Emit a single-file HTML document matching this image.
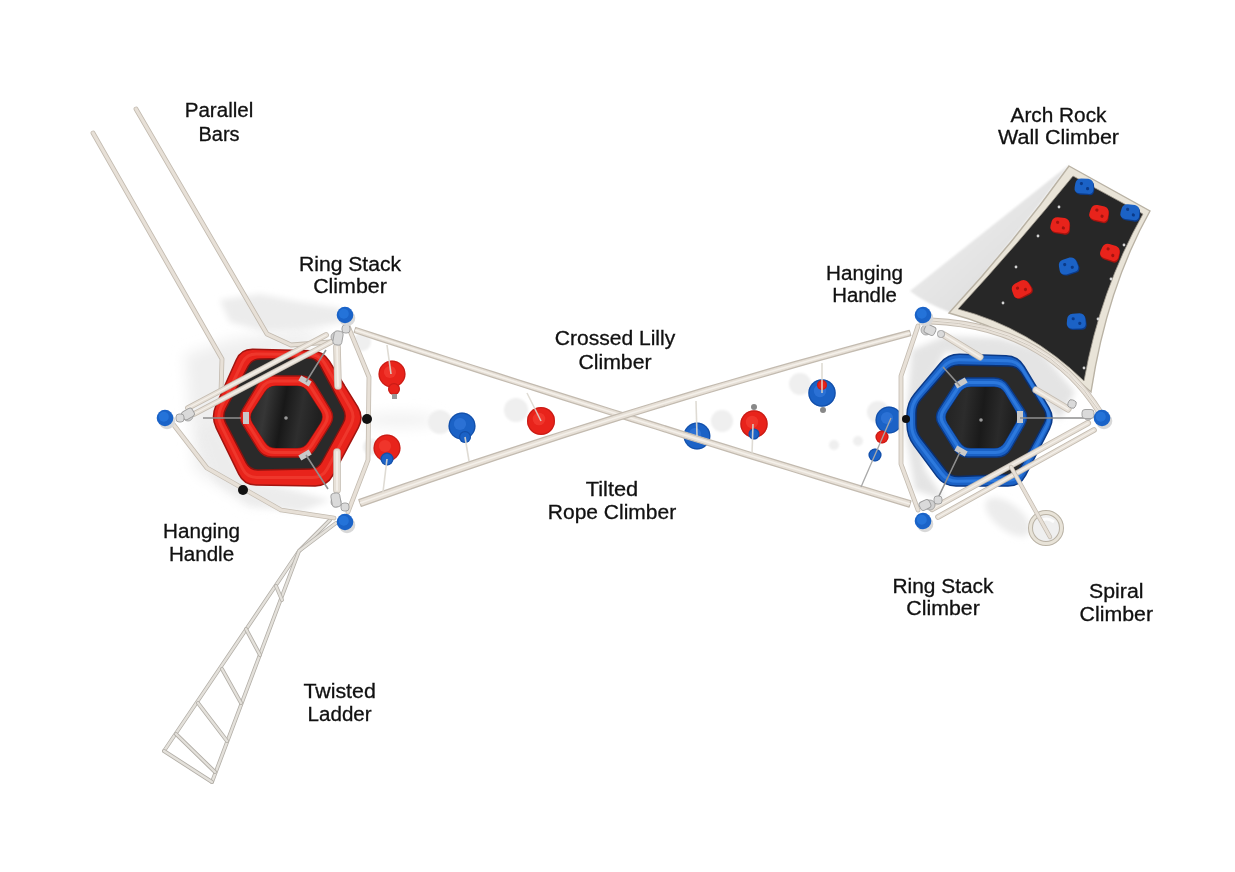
<!DOCTYPE html><html><head><meta charset="utf-8"><style>html,body{margin:0;padding:0;background:#fff;width:1235px;height:872px;overflow:hidden}svg{display:block;will-change:transform}</style></head><body><svg width="1235" height="872" viewBox="0 0 1235 872">
<defs><filter id="bl" x="-50%" y="-50%" width="200%" height="200%"><feGaussianBlur stdDeviation="7"/></filter><filter id="bl2" x="-50%" y="-50%" width="200%" height="200%"><feGaussianBlur stdDeviation="3"/></filter><filter id="blc" filterUnits="userSpaceOnUse" x="0" y="0" width="1235" height="872"><feGaussianBlur stdDeviation="3"/></filter><filter id="bl1" x="-50%" y="-50%" width="200%" height="200%"><feGaussianBlur stdDeviation="1.2"/></filter><linearGradient id="wsh" x1="0.75" y1="0.75" x2="0.3" y2="0.3"><stop offset="0" stop-color="#dddddd"/><stop offset="1" stop-color="#ebebeb"/></linearGradient></defs>
<rect width="1235" height="872" fill="#ffffff"/>
<g filter="url(#bl)" fill="#efefef">
<polygon points="185,355 230,340 300,330 330,335 300,350 250,360 225,420 232,470 300,500 250,505 195,470"/>
<ellipse cx="400" cy="420" rx="38" ry="6"/>
</g>
<g filter="url(#bl2)" fill="#ececec">
<polygon points="220,300 260,294 300,302 340,308 345,322 300,330 265,332 230,322"/>
<polygon points="200,432 214,424 232,455 252,482 300,492 330,500 300,512 250,505 215,480"/>
<ellipse cx="1008" cy="517" rx="27" ry="13" transform="rotate(38 1008 517)"/>
</g>
<g filter="url(#bl1)" fill="#efefef">
<circle cx="440" cy="422" r="12"/><circle cx="516" cy="410" r="12"/><circle cx="362" cy="342" r="9"/><circle cx="371" cy="447" r="8"/>
<circle cx="722" cy="421" r="11"/><circle cx="800" cy="384" r="11"/><circle cx="878" cy="412" r="11"/>
<circle cx="858" cy="441" r="5"/><circle cx="834" cy="445" r="5"/>
</g>
<path d="M1070,164 L910,291 Q925,303 952,313 Q1012,242 1070,164 Z" fill="url(#wsh)" filter="url(#bl1)"/>
<path d="M93,133 L222,359 L221,392" fill="none" stroke="#c3bbb0" stroke-width="4.8" stroke-linecap="round" stroke-linejoin="round"/>
<path d="M93,133 L222,359 L221,392" fill="none" stroke="#e7e0d7" stroke-width="3.2" stroke-linecap="round" stroke-linejoin="round"/>
<path d="M136,109 L267,334 L291,345 L330,342" fill="none" stroke="#c3bbb0" stroke-width="4.8" stroke-linecap="round" stroke-linejoin="round"/>
<path d="M136,109 L267,334 L291,345 L330,342" fill="none" stroke="#e7e0d7" stroke-width="3.2" stroke-linecap="round" stroke-linejoin="round"/>
<path d="M330,520 L299,551 L164,751" fill="none" stroke="#b3afa8" stroke-width="3.9" stroke-linecap="round" stroke-linejoin="round"/>
<path d="M330,520 L299,551 L164,751" fill="none" stroke="#e4e1db" stroke-width="2.3" stroke-linecap="round" stroke-linejoin="round"/>
<path d="M336,523 L299,551 L212,782" fill="none" stroke="#b3afa8" stroke-width="3.9" stroke-linecap="round" stroke-linejoin="round"/>
<path d="M336,523 L299,551 L212,782" fill="none" stroke="#e4e1db" stroke-width="2.3" stroke-linecap="round" stroke-linejoin="round"/>
<path d="M164,751 L212,782" fill="none" stroke="#b3afa8" stroke-width="3.9" stroke-linecap="round" stroke-linejoin="round"/>
<path d="M164,751 L212,782" fill="none" stroke="#e4e1db" stroke-width="2.3" stroke-linecap="round" stroke-linejoin="round"/>
<path d="M176,734 L215,772" fill="none" stroke="#b3afa8" stroke-width="3.9" stroke-linecap="round" stroke-linejoin="round"/>
<path d="M176,734 L215,772" fill="none" stroke="#e4e1db" stroke-width="2.3" stroke-linecap="round" stroke-linejoin="round"/>
<path d="M198,703 L227,741" fill="none" stroke="#b3afa8" stroke-width="3.9" stroke-linecap="round" stroke-linejoin="round"/>
<path d="M198,703 L227,741" fill="none" stroke="#e4e1db" stroke-width="2.3" stroke-linecap="round" stroke-linejoin="round"/>
<path d="M222,669 L241,703" fill="none" stroke="#b3afa8" stroke-width="3.9" stroke-linecap="round" stroke-linejoin="round"/>
<path d="M222,669 L241,703" fill="none" stroke="#e4e1db" stroke-width="2.3" stroke-linecap="round" stroke-linejoin="round"/>
<path d="M246,629 L260,655" fill="none" stroke="#b3afa8" stroke-width="3.9" stroke-linecap="round" stroke-linejoin="round"/>
<path d="M246,629 L260,655" fill="none" stroke="#e4e1db" stroke-width="2.3" stroke-linecap="round" stroke-linejoin="round"/>
<path d="M276,586 L282,600" fill="none" stroke="#b3afa8" stroke-width="3.9" stroke-linecap="round" stroke-linejoin="round"/>
<path d="M276,586 L282,600" fill="none" stroke="#e4e1db" stroke-width="2.3" stroke-linecap="round" stroke-linejoin="round"/>
<path d="M216.2,427.8 Q211.0,417.0 215.8,406.0 L236.2,360.0 Q241.0,349.0 253.0,349.3 L311.0,350.7 Q323.0,351.0 329.3,361.2 L357.7,406.8 Q364.0,417.0 358.3,427.6 L332.7,475.4 Q327.0,486.0 315.0,485.9 L256.0,485.1 Q244.0,485.0 238.8,474.2 Z" fill="#e8231b" stroke="#a3140f" stroke-width="1.5"/>
<path d="M221.0,425.4 Q216.5,416.5 220.8,407.5 L242.2,363.0 Q246.5,354.0 256.5,354.1 L309.5,354.4 Q319.5,354.5 324.5,363.1 L350.5,407.9 Q355.5,416.5 350.7,425.3 L327.3,468.7 Q322.5,477.5 312.5,477.5 L257.0,477.5 Q247.0,477.5 242.5,468.6 Z" fill="none" stroke="#f4493a" stroke-width="3" opacity="0.55"/>
<path d="M225.7,423.1 Q222.0,416.0 225.7,408.9 L248.3,366.1 Q252.0,359.0 260.0,358.9 L308.0,358.1 Q316.0,358.0 319.8,365.1 L343.2,408.9 Q347.0,416.0 343.2,423.0 L321.8,462.0 Q318.0,469.0 310.0,469.1 L258.0,469.9 Q250.0,470.0 246.3,462.9 Z" fill="#2a2a2a" stroke="#8a120e" stroke-width="1.5"/>
<path d="M242.8,424.6 Q238.0,417.0 242.7,409.3 L258.3,383.7 Q263.0,376.0 272.0,376.0 L301.0,376.0 Q310.0,376.0 314.7,383.7 L330.3,409.3 Q335.0,417.0 330.2,424.6 L314.8,449.4 Q310.0,457.0 301.0,457.0 L272.0,457.0 Q263.0,457.0 258.2,449.4 Z" fill="#e8231b" stroke="#a3140f" stroke-width="1.4"/>
<path d="M247.8,423.8 Q243.5,417.0 247.7,410.2 L261.8,387.8 Q266.0,381.0 274.0,381.0 L299.0,381.0 Q307.0,381.0 311.2,387.8 L325.3,410.2 Q329.5,417.0 325.2,423.8 L311.3,445.7 Q307.0,452.5 299.0,452.5 L274.0,452.5 Q266.0,452.5 261.7,445.7 Z" fill="none" stroke="#f4493a" stroke-width="3" opacity="0.55"/>
<clipPath id="cl1"><path d="M252.8,422.9 Q249.0,417.0 252.8,411.1 L265.2,391.9 Q269.0,386.0 276.0,386.0 L297.0,386.0 Q304.0,386.0 307.8,391.9 L320.2,411.1 Q324.0,417.0 320.2,422.9 L307.8,442.1 Q304.0,448.0 297.0,448.0 L276.0,448.0 Q269.0,448.0 265.2,442.1 Z"/></clipPath>
<path d="M252.8,422.9 Q249.0,417.0 252.8,411.1 L265.2,391.9 Q269.0,386.0 276.0,386.0 L297.0,386.0 Q304.0,386.0 307.8,391.9 L320.2,411.1 Q324.0,417.0 320.2,422.9 L307.8,442.1 Q304.0,448.0 297.0,448.0 L276.0,448.0 Q269.0,448.0 265.2,442.1 Z" fill="#2b2b2b" stroke="#8a120e" stroke-width="1.2"/>
<linearGradient id="ig1" x1="0" y1="0" x2="1" y2="0.15"><stop offset="0" stop-color="#262626"/><stop offset="0.25" stop-color="#363636"/><stop offset="0.5" stop-color="#181818"/><stop offset="0.75" stop-color="#2e2e2e"/><stop offset="1" stop-color="#202020"/></linearGradient>
<path d="M252.8,422.9 Q249.0,417.0 252.8,411.1 L265.2,391.9 Q269.0,386.0 276.0,386.0 L297.0,386.0 Q304.0,386.0 307.8,391.9 L320.2,411.1 Q324.0,417.0 320.2,422.9 L307.8,442.1 Q304.0,448.0 297.0,448.0 L276.0,448.0 Q269.0,448.0 265.2,442.1 Z" fill="url(#ig1)"/>
<circle cx="286" cy="418" r="1.8" fill="#999"/>
<rect x="302" y="375" width="6" height="12" fill="#c9c9c9" transform="rotate(-60 305 381)"/>
<rect x="243" y="412" width="6" height="12" fill="#c9c9c9" transform="rotate(0 246 418)"/>
<rect x="302" y="449" width="6" height="12" fill="#c9c9c9" transform="rotate(60 305 455)"/>
<path d="M912,350 L945,336 L1000,338 L1040,350 L1075,392 L1060,420 L1000,360 L945,352 L915,410 L925,470 L945,500 L915,490 L905,430 Z" fill="#e4e4e4" filter="url(#bl2)"/>
<path d="M907.0,415.0 Q907.0,403.0 914.7,393.8 L940.3,363.2 Q948.0,354.0 960.0,354.3 L1006.0,355.7 Q1018.0,356.0 1024.1,366.3 L1048.9,407.7 Q1055.0,418.0 1049.5,428.7 L1025.5,475.3 Q1020.0,486.0 1008.0,486.0 L956.0,486.0 Q944.0,486.0 936.9,476.4 L914.1,445.6 Q907.0,436.0 907.0,424.0 Z" fill="#1b62c6" stroke="#0b3a88" stroke-width="1.5"/>
<path d="M911.5,414.0 Q911.5,404.0 918.0,396.4 L943.0,367.1 Q949.5,359.5 959.5,359.7 L1007.5,360.8 Q1017.5,361.0 1022.7,369.5 L1046.3,408.5 Q1051.5,417.0 1046.9,425.9 L1023.1,471.1 Q1018.5,480.0 1008.5,480.2 L957.5,481.3 Q947.5,481.5 941.5,473.5 L917.5,442.0 Q911.5,434.0 911.5,424.0 Z" fill="none" stroke="#3d8cf0" stroke-width="3" opacity="0.55"/>
<path d="M916.0,413.0 Q916.0,405.0 921.3,399.0 L945.7,371.0 Q951.0,365.0 959.0,365.1 L1009.0,365.9 Q1017.0,366.0 1021.2,372.8 L1043.8,409.2 Q1048.0,416.0 1044.2,423.1 L1020.8,466.9 Q1017.0,474.0 1009.0,474.4 L959.0,476.6 Q951.0,477.0 946.1,470.7 L920.9,438.3 Q916.0,432.0 916.0,424.0 Z" fill="#2a2a2a" stroke="#0a2f70" stroke-width="1.5"/>
<path d="M938.8,424.6 Q934.0,417.0 938.9,409.4 L954.1,385.6 Q959.0,378.0 968.0,378.0 L994.0,378.0 Q1003.0,378.0 1008.0,385.5 L1024.0,409.5 Q1029.0,417.0 1024.5,424.8 L1010.5,449.2 Q1006.0,457.0 997.0,457.0 L968.0,457.0 Q959.0,457.0 954.2,449.4 Z" fill="#1b62c6" stroke="#0b3a88" stroke-width="1.4"/>
<path d="M943.3,423.8 Q939.0,417.0 943.4,410.3 L957.1,389.2 Q961.5,382.5 969.5,382.5 L994.0,382.5 Q1002.0,382.5 1006.3,389.2 L1019.7,410.3 Q1024.0,417.0 1020.0,423.9 L1007.5,445.6 Q1003.5,452.5 995.5,452.5 L969.5,452.5 Q961.5,452.5 957.2,445.7 Z" fill="none" stroke="#3d8cf0" stroke-width="3" opacity="0.55"/>
<clipPath id="cl2"><path d="M947.8,422.9 Q944.0,417.0 947.9,411.2 L960.1,392.8 Q964.0,387.0 971.0,387.0 L994.0,387.0 Q1001.0,387.0 1004.6,393.0 L1015.4,411.0 Q1019.0,417.0 1015.5,423.1 L1004.5,441.9 Q1001.0,448.0 994.0,448.0 L971.0,448.0 Q964.0,448.0 960.2,442.1 Z"/></clipPath>
<path d="M947.8,422.9 Q944.0,417.0 947.9,411.2 L960.1,392.8 Q964.0,387.0 971.0,387.0 L994.0,387.0 Q1001.0,387.0 1004.6,393.0 L1015.4,411.0 Q1019.0,417.0 1015.5,423.1 L1004.5,441.9 Q1001.0,448.0 994.0,448.0 L971.0,448.0 Q964.0,448.0 960.2,442.1 Z" fill="#252525" stroke="#0a2f70" stroke-width="1.2"/>
<linearGradient id="ig2" x1="0" y1="0" x2="1" y2="0.1"><stop offset="0" stop-color="#222"/><stop offset="0.3" stop-color="#2c2c2c"/><stop offset="0.55" stop-color="#1a1a1a"/><stop offset="0.8" stop-color="#2a2a2a"/><stop offset="1" stop-color="#1e1e1e"/></linearGradient>
<path d="M947.8,422.9 Q944.0,417.0 947.9,411.2 L960.1,392.8 Q964.0,387.0 971.0,387.0 L994.0,387.0 Q1001.0,387.0 1004.6,393.0 L1015.4,411.0 Q1019.0,417.0 1015.5,423.1 L1004.5,441.9 Q1001.0,448.0 994.0,448.0 L971.0,448.0 Q964.0,448.0 960.2,442.1 Z" fill="url(#ig2)"/>
<circle cx="981" cy="420" r="1.8" fill="#999"/>
<rect x="958" y="377" width="6" height="12" fill="#c9c9c9" transform="rotate(60 961 383)"/>
<rect x="1017" y="411" width="6" height="12" fill="#c9c9c9" transform="rotate(0 1020 417)"/>
<rect x="958" y="445" width="6" height="12" fill="#c9c9c9" transform="rotate(-60 961 451)"/>
<path d="M1069,166 L1150,211 Q1107,288 1091,392 Q1028,334 949,313 Q1014,243 1069,166 Z" fill="#e9e4d8" stroke="#b9b2a4" stroke-width="1.4"/>
<path d="M1073,176 L1143,214 Q1100,290 1084,381 Q1030,328 958,309 Q1018,244 1073,176 Z" fill="#272727" stroke="#9d978b" stroke-width="0.8"/>
<g transform="translate(1084,186) rotate(10)"><path d="M-9,-1 Q-9,-6 -4,-7 L3,-8 Q8,-8 9,-3 L10,2 Q10,7 5,7 L-3,8 Q-9,8 -9,3 Z" fill="#0b3a88" transform="translate(1,1.2)"/><path d="M-9,-1 Q-9,-6 -4,-7 L3,-8 Q8,-8 9,-3 L10,2 Q10,7 5,7 L-3,8 Q-9,8 -9,3 Z" fill="#1b62c6"/><circle cx="-3" cy="-2" r="1.6" fill="#0b3a88"/><circle cx="4" cy="2" r="1.6" fill="#0b3a88"/></g>
<g transform="translate(1130,212) rotate(15)"><path d="M-9,-1 Q-9,-6 -4,-7 L3,-8 Q8,-8 9,-3 L10,2 Q10,7 5,7 L-3,8 Q-9,8 -9,3 Z" fill="#0b3a88" transform="translate(1,1.2)"/><path d="M-9,-1 Q-9,-6 -4,-7 L3,-8 Q8,-8 9,-3 L10,2 Q10,7 5,7 L-3,8 Q-9,8 -9,3 Z" fill="#1b62c6"/><circle cx="-3" cy="-2" r="1.6" fill="#0b3a88"/><circle cx="4" cy="2" r="1.6" fill="#0b3a88"/></g>
<g transform="translate(1068,266) rotate(-10)"><path d="M-9,-1 Q-9,-6 -4,-7 L3,-8 Q8,-8 9,-3 L10,2 Q10,7 5,7 L-3,8 Q-9,8 -9,3 Z" fill="#0b3a88" transform="translate(1,1.2)"/><path d="M-9,-1 Q-9,-6 -4,-7 L3,-8 Q8,-8 9,-3 L10,2 Q10,7 5,7 L-3,8 Q-9,8 -9,3 Z" fill="#1b62c6"/><circle cx="-3" cy="-2" r="1.6" fill="#0b3a88"/><circle cx="4" cy="2" r="1.6" fill="#0b3a88"/></g>
<g transform="translate(1076,321) rotate(5)"><path d="M-9,-1 Q-9,-6 -4,-7 L3,-8 Q8,-8 9,-3 L10,2 Q10,7 5,7 L-3,8 Q-9,8 -9,3 Z" fill="#0b3a88" transform="translate(1,1.2)"/><path d="M-9,-1 Q-9,-6 -4,-7 L3,-8 Q8,-8 9,-3 L10,2 Q10,7 5,7 L-3,8 Q-9,8 -9,3 Z" fill="#1b62c6"/><circle cx="-3" cy="-2" r="1.6" fill="#0b3a88"/><circle cx="4" cy="2" r="1.6" fill="#0b3a88"/></g>
<g transform="translate(1099,213) rotate(20)"><path d="M-9,-1 Q-9,-6 -4,-7 L3,-8 Q8,-8 9,-3 L10,2 Q10,7 5,7 L-3,8 Q-9,8 -9,3 Z" fill="#a3140f" transform="translate(1,1.2)"/><path d="M-9,-1 Q-9,-6 -4,-7 L3,-8 Q8,-8 9,-3 L10,2 Q10,7 5,7 L-3,8 Q-9,8 -9,3 Z" fill="#e8231b"/><circle cx="-3" cy="-2" r="1.6" fill="#a3140f"/><circle cx="4" cy="2" r="1.6" fill="#a3140f"/></g>
<g transform="translate(1060,225) rotate(15)"><path d="M-9,-1 Q-9,-6 -4,-7 L3,-8 Q8,-8 9,-3 L10,2 Q10,7 5,7 L-3,8 Q-9,8 -9,3 Z" fill="#a3140f" transform="translate(1,1.2)"/><path d="M-9,-1 Q-9,-6 -4,-7 L3,-8 Q8,-8 9,-3 L10,2 Q10,7 5,7 L-3,8 Q-9,8 -9,3 Z" fill="#e8231b"/><circle cx="-3" cy="-2" r="1.6" fill="#a3140f"/><circle cx="4" cy="2" r="1.6" fill="#a3140f"/></g>
<g transform="translate(1110,252) rotate(25)"><path d="M-9,-1 Q-9,-6 -4,-7 L3,-8 Q8,-8 9,-3 L10,2 Q10,7 5,7 L-3,8 Q-9,8 -9,3 Z" fill="#a3140f" transform="translate(1,1.2)"/><path d="M-9,-1 Q-9,-6 -4,-7 L3,-8 Q8,-8 9,-3 L10,2 Q10,7 5,7 L-3,8 Q-9,8 -9,3 Z" fill="#e8231b"/><circle cx="-3" cy="-2" r="1.6" fill="#a3140f"/><circle cx="4" cy="2" r="1.6" fill="#a3140f"/></g>
<g transform="translate(1021,289) rotate(-20)"><path d="M-9,-1 Q-9,-6 -4,-7 L3,-8 Q8,-8 9,-3 L10,2 Q10,7 5,7 L-3,8 Q-9,8 -9,3 Z" fill="#a3140f" transform="translate(1,1.2)"/><path d="M-9,-1 Q-9,-6 -4,-7 L3,-8 Q8,-8 9,-3 L10,2 Q10,7 5,7 L-3,8 Q-9,8 -9,3 Z" fill="#e8231b"/><circle cx="-3" cy="-2" r="1.6" fill="#a3140f"/><circle cx="4" cy="2" r="1.6" fill="#a3140f"/></g>
<circle cx="1059" cy="207" r="1.4" fill="#d5d5d5"/>
<circle cx="1038" cy="236" r="1.4" fill="#d5d5d5"/>
<circle cx="1016" cy="267" r="1.4" fill="#d5d5d5"/>
<circle cx="1003" cy="303" r="1.4" fill="#d5d5d5"/>
<circle cx="1124" cy="245" r="1.4" fill="#d5d5d5"/>
<circle cx="1111" cy="279" r="1.4" fill="#d5d5d5"/>
<circle cx="1098" cy="319" r="1.4" fill="#d5d5d5"/>
<circle cx="1084" cy="368" r="1.4" fill="#d5d5d5"/>
<path d="M348,326 L369,377 L368,460 L348,512" fill="none" stroke="#c3bbb0" stroke-width="4.8" stroke-linecap="round" stroke-linejoin="round"/>
<path d="M348,326 L369,377 L368,460 L348,512" fill="none" stroke="#e7e0d7" stroke-width="3.2" stroke-linecap="round" stroke-linejoin="round"/>
<path d="M173,424 L207,468 L281,510 L334,518" fill="none" stroke="#c3bbb0" stroke-width="4.8" stroke-linecap="round" stroke-linejoin="round"/>
<path d="M173,424 L207,468 L281,510 L334,518" fill="none" stroke="#e7e0d7" stroke-width="3.2" stroke-linecap="round" stroke-linejoin="round"/>
<path d="M188,408 L326,335" fill="none" stroke="#c3bbb0" stroke-width="5.8" stroke-linecap="round" stroke-linejoin="round"/>
<path d="M188,408 L326,335" fill="none" stroke="#e7e0d7" stroke-width="4.2" stroke-linecap="round" stroke-linejoin="round"/>
<path d="M188,408 L326,335" fill="none" stroke="#f4f0ea" stroke-width="1.3" stroke-linecap="round" stroke-linejoin="round"/>
<path d="M194,414 L333,341" fill="none" stroke="#c3bbb0" stroke-width="5.6" stroke-linecap="round" stroke-linejoin="round"/>
<path d="M194,414 L333,341" fill="none" stroke="#e7e0d7" stroke-width="4.0" stroke-linecap="round" stroke-linejoin="round"/>
<path d="M194,414 L333,341" fill="none" stroke="#f4f0ea" stroke-width="1.2" stroke-linecap="round" stroke-linejoin="round"/>
<path d="M337,347 L338,386" fill="none" stroke="#c3bbb0" stroke-width="7.6" stroke-linecap="round" stroke-linejoin="round"/>
<path d="M337,347 L338,386" fill="none" stroke="#e7e0d7" stroke-width="6.0" stroke-linecap="round" stroke-linejoin="round"/>
<path d="M337,347 L338,386" fill="none" stroke="#f4f0ea" stroke-width="1.8" stroke-linecap="round" stroke-linejoin="round"/>
<path d="M337,452 L337,490" fill="none" stroke="#c3bbb0" stroke-width="7.6" stroke-linecap="round" stroke-linejoin="round"/>
<path d="M337,452 L337,490" fill="none" stroke="#e7e0d7" stroke-width="6.0" stroke-linecap="round" stroke-linejoin="round"/>
<path d="M337,452 L337,490" fill="none" stroke="#f4f0ea" stroke-width="1.8" stroke-linecap="round" stroke-linejoin="round"/>
<path d="M326,350 L306,382 M203,418 L241,418 M306,455 L328,489" stroke="#8f8f8f" stroke-width="1.6"/>
<g fill="#cfcfcf" stroke="#9a9a9a" stroke-width="0.8"><circle cx="336" cy="337" r="5"/><circle cx="188" cy="416" r="5"/><circle cx="336" cy="502" r="5"/></g>
<circle cx="889" cy="420" r="13.5" fill="#1b62c6"/>
<circle cx="889" cy="420" r="12.9" fill="none" stroke="#0b3a88" stroke-width="1.2" opacity="0.45"/>
<circle cx="887" cy="418" r="6.1" fill="#4a90f0" opacity="0.35"/>
<circle cx="882" cy="437" r="6.5" fill="#e8231b"/>
<circle cx="882" cy="437" r="5.9" fill="none" stroke="#a3140f" stroke-width="1.2" opacity="0.45"/>
<circle cx="875" cy="455" r="6.5" fill="#1b62c6"/>
<circle cx="875" cy="455" r="5.9" fill="none" stroke="#0b3a88" stroke-width="1.2" opacity="0.45"/>
<path d="M918,326 L901,376 L901,464 L918,510" fill="none" stroke="#c3bbb0" stroke-width="4.8" stroke-linecap="round" stroke-linejoin="round"/>
<path d="M918,326 L901,376 L901,464 L918,510" fill="none" stroke="#e7e0d7" stroke-width="3.2" stroke-linecap="round" stroke-linejoin="round"/>
<path d="M931,321 Q1045,326 1099,411" fill="none" stroke="#c3bbb0" stroke-width="6.8" stroke-linecap="round" stroke-linejoin="round"/>
<path d="M931,321 Q1045,326 1099,411" fill="none" stroke="#e7e0d7" stroke-width="5.2" stroke-linecap="round" stroke-linejoin="round"/>
<path d="M931,321 Q1045,326 1099,411" fill="none" stroke="#f4f0ea" stroke-width="1.6" stroke-linecap="round" stroke-linejoin="round"/>
<path d="M931,321 Q1045,326 1099,411" fill="none" stroke="#cbc3b8" stroke-width="0.9"/>
<path d="M944,335 L980,357" fill="none" stroke="#c3bbb0" stroke-width="7.1" stroke-linecap="round" stroke-linejoin="round"/>
<path d="M944,335 L980,357" fill="none" stroke="#e7e0d7" stroke-width="5.5" stroke-linecap="round" stroke-linejoin="round"/>
<path d="M944,335 L980,357" fill="none" stroke="#f4f0ea" stroke-width="1.6" stroke-linecap="round" stroke-linejoin="round"/>
<path d="M1036,390 L1068,409" fill="none" stroke="#c3bbb0" stroke-width="7.1" stroke-linecap="round" stroke-linejoin="round"/>
<path d="M1036,390 L1068,409" fill="none" stroke="#e7e0d7" stroke-width="5.5" stroke-linecap="round" stroke-linejoin="round"/>
<path d="M1036,390 L1068,409" fill="none" stroke="#f4f0ea" stroke-width="1.6" stroke-linecap="round" stroke-linejoin="round"/>
<path d="M932,509 L1088,423" fill="none" stroke="#c3bbb0" stroke-width="6.1" stroke-linecap="round" stroke-linejoin="round"/>
<path d="M932,509 L1088,423" fill="none" stroke="#e7e0d7" stroke-width="4.5" stroke-linecap="round" stroke-linejoin="round"/>
<path d="M932,509 L1088,423" fill="none" stroke="#f4f0ea" stroke-width="1.3" stroke-linecap="round" stroke-linejoin="round"/>
<path d="M938,517 L1094,430" fill="none" stroke="#c3bbb0" stroke-width="5.6" stroke-linecap="round" stroke-linejoin="round"/>
<path d="M938,517 L1094,430" fill="none" stroke="#e7e0d7" stroke-width="4.0" stroke-linecap="round" stroke-linejoin="round"/>
<path d="M938,517 L1094,430" fill="none" stroke="#f4f0ea" stroke-width="1.2" stroke-linecap="round" stroke-linejoin="round"/>
<path d="M943,367 L960,386 M1020,418 L1090,418 M960,452 L938,498" stroke="#8f8f8f" stroke-width="1.6"/>
<g fill="#cfcfcf" stroke="#9a9a9a" stroke-width="0.8"><circle cx="926" cy="330" r="5"/><circle cx="1088" cy="415" r="5"/><circle cx="930" cy="505" r="5"/></g>
<circle cx="1046" cy="528" r="15.5" fill="#efefef" stroke="#b9b2a5" stroke-width="5"/>
<circle cx="1046" cy="528" r="15.5" fill="none" stroke="#e8e3d8" stroke-width="3"/>
<path d="M1040,522 Q1046,516 1054,522" fill="none" stroke="#ffffff" stroke-width="3" opacity="0.8"/>
<path d="M1011,467 L1050,537" fill="none" stroke="#c3bbb0" stroke-width="4.4" stroke-linecap="round" stroke-linejoin="round"/>
<path d="M1011,467 L1050,537" fill="none" stroke="#e7e0d7" stroke-width="2.8" stroke-linecap="round" stroke-linejoin="round"/>
<circle cx="697" cy="436" r="13.4" fill="#1b62c6"/>
<circle cx="697" cy="436" r="12.8" fill="none" stroke="#0b3a88" stroke-width="1.2" opacity="0.45"/>
<circle cx="695" cy="434" r="6.0" fill="#4a90f0" opacity="0.35"/>
<polygon points="354.2,332.5 377.4,340.1 400.7,347.6 423.9,355.2 447.1,362.7 470.3,370.2 493.5,377.6 516.7,385.0 539.8,392.4 563.0,399.8 586.1,407.2 609.3,414.5 632.4,421.8 655.5,429.0 678.6,436.3 701.7,443.5 724.8,450.6 747.9,457.8 770.9,464.9 794.0,472.0 817.0,479.1 840.0,486.1 863.1,493.1 886.1,500.1 909.1,507.1 910.9,500.9 887.9,494.0 864.9,487.1 841.9,480.1 818.8,473.1 795.8,466.1 772.7,459.1 749.6,452.0 726.6,444.9 703.5,437.8 680.4,430.6 657.2,423.4 634.1,416.2 611.0,409.0 587.8,401.7 564.7,394.4 541.5,387.1 518.3,379.8 495.2,372.4 472.0,365.0 448.7,357.5 425.5,350.1 402.3,342.6 379.1,335.1 355.8,327.5" fill="#e7e0d7" stroke="#c3bbb0" stroke-width="1.3" stroke-linejoin="round"/>
<polyline points="355.0,330.0 378.2,337.6 401.5,345.1 424.7,352.6 447.9,360.1 471.1,367.6 494.3,375.0 517.5,382.4 540.7,389.8 563.8,397.1 587.0,404.4 610.1,411.7 633.2,419.0 656.4,426.2 679.5,433.4 702.6,440.6 725.7,447.8 748.7,454.9 771.8,462.0 794.9,469.1 817.9,476.1 841.0,483.1 864.0,490.1 887.0,497.1 910.0,504.0" fill="none" stroke="#f4f0ea" stroke-width="1.6"/>
<polygon points="361.2,506.4 384.1,498.3 407.0,490.3 429.9,482.4 452.8,474.6 475.7,466.9 498.6,459.2 521.5,451.6 544.3,444.1 567.2,436.7 590.1,429.4 613.0,422.2 635.9,415.0 658.8,407.9 681.7,400.9 704.6,394.0 727.5,387.2 750.4,380.5 773.3,373.8 796.2,367.2 819.1,360.7 842.0,354.3 864.9,348.0 887.8,341.8 910.7,335.6 909.3,330.4 886.4,336.5 863.4,342.7 840.5,348.9 817.6,355.3 794.6,361.7 771.7,368.2 748.8,374.8 725.8,381.5 702.9,388.2 679.9,395.1 657.0,402.0 634.1,409.0 611.1,416.1 588.2,423.3 565.3,430.5 542.3,437.9 519.4,445.3 496.4,452.8 473.5,460.4 450.6,468.1 427.6,475.8 404.7,483.7 381.7,491.6 358.8,499.6" fill="#e7e0d7" stroke="#c3bbb0" stroke-width="1.3" stroke-linejoin="round"/>
<polyline points="360.0,503.0 382.9,495.0 405.8,487.0 428.8,479.1 451.7,471.3 474.6,463.6 497.5,456.0 520.4,448.5 543.3,441.0 566.2,433.6 589.2,426.3 612.1,419.1 635.0,412.0 657.9,405.0 680.8,398.0 703.8,391.1 726.7,384.3 749.6,377.6 772.5,371.0 795.4,364.5 818.3,358.0 841.2,351.6 864.2,345.3 887.1,339.1 910.0,333.0" fill="none" stroke="#f4f0ea" stroke-width="1.6"/>
<circle cx="392" cy="374" r="13.5" fill="#e8231b"/>
<circle cx="392" cy="374" r="12.9" fill="none" stroke="#a3140f" stroke-width="1.2" opacity="0.45"/>
<circle cx="390" cy="372" r="6.1" fill="#ff5a4a" opacity="0.35"/>
<circle cx="394" cy="389" r="6" fill="#e8231b"/>
<circle cx="394" cy="389" r="5.4" fill="none" stroke="#a3140f" stroke-width="1.2" opacity="0.45"/>
<rect x="392" y="394" width="5" height="5" fill="#9a9a9a"/>
<circle cx="387" cy="448" r="13.5" fill="#e8231b"/>
<circle cx="387" cy="448" r="12.9" fill="none" stroke="#a3140f" stroke-width="1.2" opacity="0.45"/>
<circle cx="385" cy="446" r="6.1" fill="#ff5a4a" opacity="0.35"/>
<circle cx="387" cy="459" r="6.5" fill="#1b62c6"/>
<circle cx="387" cy="459" r="5.9" fill="none" stroke="#0b3a88" stroke-width="1.2" opacity="0.45"/>
<circle cx="462" cy="426" r="13.5" fill="#1b62c6"/>
<circle cx="462" cy="426" r="12.9" fill="none" stroke="#0b3a88" stroke-width="1.2" opacity="0.45"/>
<circle cx="460" cy="424" r="6.1" fill="#4a90f0" opacity="0.35"/>
<circle cx="465" cy="437" r="6" fill="#1b62c6"/>
<circle cx="465" cy="437" r="5.4" fill="none" stroke="#0b3a88" stroke-width="1.2" opacity="0.45"/>
<circle cx="541" cy="421" r="14" fill="#e8231b"/>
<circle cx="541" cy="421" r="13.4" fill="none" stroke="#a3140f" stroke-width="1.2" opacity="0.45"/>
<circle cx="539" cy="419" r="6.3" fill="#ff5a4a" opacity="0.35"/>
<circle cx="754" cy="424" r="13.7" fill="#e8231b"/>
<circle cx="754" cy="424" r="13.1" fill="none" stroke="#a3140f" stroke-width="1.2" opacity="0.45"/>
<circle cx="752" cy="422" r="6.2" fill="#ff5a4a" opacity="0.35"/>
<circle cx="754" cy="434" r="5.5" fill="#1b62c6"/>
<circle cx="754" cy="434" r="4.9" fill="none" stroke="#0b3a88" stroke-width="1.2" opacity="0.45"/>
<circle cx="754" cy="407" r="3" fill="#888"/>
<circle cx="822" cy="393" r="13.7" fill="#1b62c6"/>
<circle cx="822" cy="393" r="13.1" fill="none" stroke="#0b3a88" stroke-width="1.2" opacity="0.45"/>
<circle cx="820" cy="391" r="6.2" fill="#4a90f0" opacity="0.35"/>
<circle cx="822" cy="385" r="5" fill="#e8231b"/>
<circle cx="822" cy="385" r="4.4" fill="none" stroke="#a3140f" stroke-width="1.2" opacity="0.45"/>
<circle cx="823" cy="410" r="3" fill="#888"/>
<circle cx="367" cy="419" r="5" fill="#111"/><circle cx="243" cy="490" r="5" fill="#111"/><circle cx="906" cy="419" r="4" fill="#111"/>
<g stroke="#dcd8d0" stroke-width="1.6" opacity="0.9">
<line x1="387" y1="345" x2="391" y2="374"/>
<line x1="383" y1="492" x2="387" y2="459"/>
<line x1="469" y1="461" x2="465" y2="437"/>
<line x1="527" y1="393" x2="541" y2="421"/>
<line x1="696" y1="401" x2="697" y2="436"/>
<line x1="752" y1="454" x2="753" y2="424"/>
<line x1="822" y1="363" x2="822" y2="393"/>
</g>
<g stroke="#a8a8a8" stroke-width="1.3">
<line x1="861" y1="487" x2="891" y2="418"/>
</g>
<rect x="182.0" y="409.5" width="12" height="9" rx="3" fill="#dadada" stroke="#9c9c9c" stroke-width="0.9" transform="rotate(-30 188 414)"/>
<rect x="333.5" y="331.0" width="9" height="14" rx="3" fill="#dadada" stroke="#9c9c9c" stroke-width="0.9" transform="rotate(10 338 338)"/>
<rect x="331.5" y="493.0" width="9" height="14" rx="3" fill="#dadada" stroke="#9c9c9c" stroke-width="0.9" transform="rotate(-10 336 500)"/>
<rect x="342.0" y="325.0" width="8" height="8" rx="3" fill="#dadada" stroke="#9c9c9c" stroke-width="0.9" transform="rotate(0 346 329)"/>
<rect x="341.0" y="503.0" width="8" height="8" rx="3" fill="#dadada" stroke="#9c9c9c" stroke-width="0.9" transform="rotate(0 345 507)"/>
<rect x="176.0" y="414.0" width="8" height="8" rx="3" fill="#dadada" stroke="#9c9c9c" stroke-width="0.9" transform="rotate(0 180 418)"/>
<rect x="924.5" y="325.5" width="11" height="9" rx="3" fill="#dadada" stroke="#9c9c9c" stroke-width="0.9" transform="rotate(25 930 330)"/>
<rect x="919.5" y="500.5" width="11" height="9" rx="3" fill="#dadada" stroke="#9c9c9c" stroke-width="0.9" transform="rotate(-25 925 505)"/>
<rect x="1082.0" y="409.5" width="12" height="9" rx="3" fill="#dadada" stroke="#9c9c9c" stroke-width="0.9" transform="rotate(0 1088 414)"/>
<rect x="937.5" y="330.5" width="7" height="7" rx="3" fill="#dadada" stroke="#9c9c9c" stroke-width="0.9" transform="rotate(0 941 334)"/>
<rect x="1068.0" y="400.0" width="8" height="8" rx="3" fill="#dadada" stroke="#9c9c9c" stroke-width="0.9" transform="rotate(20 1072 404)"/>
<rect x="934.0" y="496.0" width="8" height="8" rx="3" fill="#dadada" stroke="#9c9c9c" stroke-width="0.9" transform="rotate(0 938 500)"/>
<circle cx="167" cy="421" r="8.3" fill="#d8d8d8"/>
<circle cx="165" cy="418" r="8.3" fill="#1a63c8"/>
<circle cx="163.8" cy="416.8" r="5.0" fill="#2a7ae0" opacity="0.7"/>
<circle cx="347" cy="318" r="8.3" fill="#d8d8d8"/>
<circle cx="345" cy="315" r="8.3" fill="#1a63c8"/>
<circle cx="343.8" cy="313.8" r="5.0" fill="#2a7ae0" opacity="0.7"/>
<circle cx="347" cy="525" r="8.3" fill="#d8d8d8"/>
<circle cx="345" cy="522" r="8.3" fill="#1a63c8"/>
<circle cx="343.8" cy="520.8" r="5.0" fill="#2a7ae0" opacity="0.7"/>
<circle cx="925" cy="318" r="8.3" fill="#d8d8d8"/>
<circle cx="923" cy="315" r="8.3" fill="#1a63c8"/>
<circle cx="921.8" cy="313.8" r="5.0" fill="#2a7ae0" opacity="0.7"/>
<circle cx="1104" cy="421" r="8.3" fill="#d8d8d8"/>
<circle cx="1102" cy="418" r="8.3" fill="#1a63c8"/>
<circle cx="1100.8" cy="416.8" r="5.0" fill="#2a7ae0" opacity="0.7"/>
<circle cx="925" cy="524" r="8.3" fill="#d8d8d8"/>
<circle cx="923" cy="521" r="8.3" fill="#1a63c8"/>
<circle cx="921.8" cy="519.8" r="5.0" fill="#2a7ae0" opacity="0.7"/>
<g font-family="Liberation Sans, sans-serif" font-size="20" fill="#111111" stroke="#111111" stroke-width="0.3" text-anchor="middle">
<text x="219" y="117.2" textLength="68.6" lengthAdjust="spacingAndGlyphs">Parallel</text>
<text x="219" y="140.8" textLength="41" lengthAdjust="spacingAndGlyphs">Bars</text>
<text x="350" y="270.6" textLength="102" lengthAdjust="spacingAndGlyphs">Ring Stack</text>
<text x="350" y="293.3" textLength="73.7" lengthAdjust="spacingAndGlyphs">Climber</text>
<text x="615" y="345.3" textLength="120.5" lengthAdjust="spacingAndGlyphs">Crossed Lilly</text>
<text x="615" y="368.6" textLength="73.2" lengthAdjust="spacingAndGlyphs">Climber</text>
<text x="612" y="495.9" textLength="52.5" lengthAdjust="spacingAndGlyphs">Tilted</text>
<text x="612" y="519.2" textLength="128.3" lengthAdjust="spacingAndGlyphs">Rope Climber</text>
<text x="201.5" y="537.5" textLength="77" lengthAdjust="spacingAndGlyphs">Hanging</text>
<text x="201.5" y="561" textLength="65.2" lengthAdjust="spacingAndGlyphs">Handle</text>
<text x="339.6" y="698.3" textLength="72.4" lengthAdjust="spacingAndGlyphs">Twisted</text>
<text x="339.6" y="721.4" textLength="64" lengthAdjust="spacingAndGlyphs">Ladder</text>
<text x="864.5" y="279.5" textLength="77" lengthAdjust="spacingAndGlyphs">Hanging</text>
<text x="864.5" y="302.2" textLength="64.6" lengthAdjust="spacingAndGlyphs">Handle</text>
<text x="1058.5" y="121.6" textLength="95.9" lengthAdjust="spacingAndGlyphs">Arch Rock</text>
<text x="1058.5" y="144.2" textLength="121.1" lengthAdjust="spacingAndGlyphs">Wall Climber</text>
<text x="943" y="592.7" textLength="100.9" lengthAdjust="spacingAndGlyphs">Ring Stack</text>
<text x="943" y="615.4" textLength="73.5" lengthAdjust="spacingAndGlyphs">Climber</text>
<text x="1116.3" y="597.6" textLength="54.4" lengthAdjust="spacingAndGlyphs">Spiral</text>
<text x="1116.3" y="621.2" textLength="73.4" lengthAdjust="spacingAndGlyphs">Climber</text>
</g>
</svg></body></html>
